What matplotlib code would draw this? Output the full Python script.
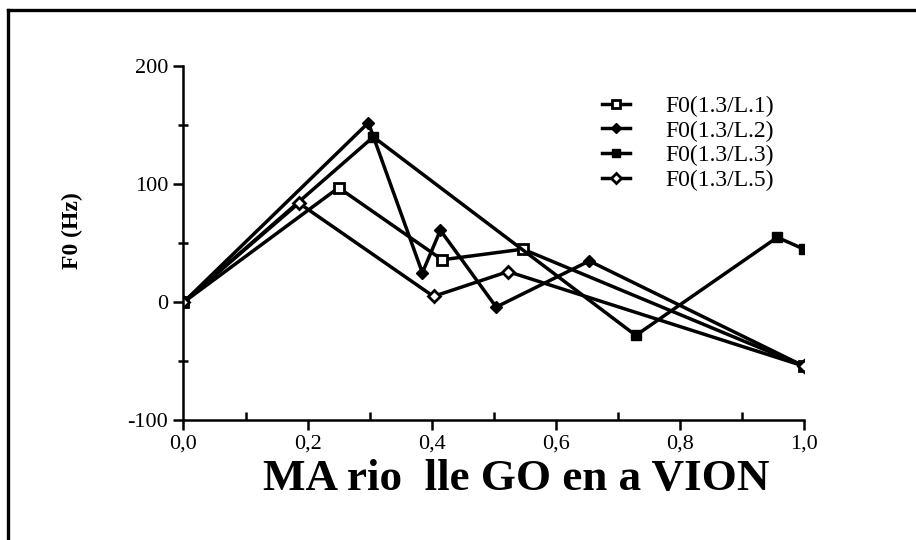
import matplotlib.pyplot as plt
from matplotlib.lines import Line2D
from matplotlib.ticker import MultipleLocator, FuncFormatter

plt.rcParams['font.family'] = ['Liberation Serif', 'DejaVu Serif']

# position in the word (0..1) and F0 deviation (Hz)
x_l1 = [0.0, 0.250, 0.417, 0.547, 1.0]
y_l1 = [0, 97, 36, 45, -54]
x_l2 = [0.0, 0.298, 0.385, 0.414, 0.504, 0.654, 1.0]
y_l2 = [0, 152, 25, 61, -4, 35, -54]
x_l3 = [0.0, 0.306, 0.729, 0.957, 1.0]
y_l3 = [0, 140, -28, 55, 45]
x_l5 = [0.0, 0.186, 0.403, 0.523, 1.0]
y_l5 = [0, 84, 5, 26, -54]
labels = ['F0(1.3/L.1)', 'F0(1.3/L.2)', 'F0(1.3/L.3)', 'F0(1.3/L.5)']

fig = plt.figure(figsize=(9.16, 5.4), dpi=100)
ax = fig.add_axes([0.2003, 0.2213, 0.6774, 0.6565])

lw = 2.5
ax.plot(x_l1, y_l1, color='black', lw=lw, marker='s', ms=6.5, mfc='white', mec='black', mew=2, label=labels[0])
ax.plot(x_l2, y_l2, color='black', lw=lw, marker='D', ms=6, mfc='black', mec='black', label=labels[1])
ax.plot(x_l3, y_l3, color='black', lw=lw, marker='s', ms=6.5, mfc='black', mec='black', label=labels[2])
ax.plot(x_l5, y_l5, color='black', lw=lw, marker='D', ms=6, mfc='white', mec='black', mew=2, label=labels[3])

ax.set_xlim(0, 1.0)
ax.set_ylim(-100, 200)
ax.xaxis.set_major_locator(MultipleLocator(0.2))
ax.xaxis.set_minor_locator(MultipleLocator(0.1))
ax.yaxis.set_major_locator(MultipleLocator(100))
ax.yaxis.set_minor_locator(MultipleLocator(50))
ax.xaxis.set_major_formatter(FuncFormatter(lambda v, p: f"{v:.1f}".replace('.', ',')))
ax.yaxis.set_major_formatter(FuncFormatter(lambda v, p: f"{v:.0f}"))

for s in ['top', 'right']:
    ax.spines[s].set_visible(False)
for s in ['left', 'bottom']:
    ax.spines[s].set_linewidth(1.8)

ax.tick_params(which='major', direction='out', length=7, width=1.8, labelsize=16)
ax.tick_params(axis='x', which='major', pad=3)
ax.tick_params(axis='y', which='major', pad=4)
ax.tick_params(axis='x', which='minor', direction='in', length=6, width=1.8)
ax.tick_params(axis='y', which='minor', direction='inout', length=7, width=1.8)

ax.set_xlabel('MA rio  lle GO en a VION', fontsize=32.5, fontweight='bold', labelpad=4)
ax.xaxis.label.set_x(0.537)
ax.set_ylabel('F0 (Hz)', fontsize=17, fontweight='bold', labelpad=32)
ax.yaxis.label.set_y(0.535)

leg = ax.legend(loc='upper left', bbox_to_anchor=(0.66, 0.944), frameon=False, fontsize=17,
                handlelength=1.15, handletextpad=1.5, labelspacing=0.14, markerscale=0.8,
                borderaxespad=0)

# frame drawn around the figure (top and left edges)
fig.add_artist(Line2D([0.0087, 1.0], [0.981, 0.981], color='black', lw=2.4, transform=fig.transFigure))
fig.add_artist(Line2D([0.0087, 0.0087], [0.0, 0.981], color='black', lw=2.4, transform=fig.transFigure))

fig.savefig('out.png', dpi=100)
